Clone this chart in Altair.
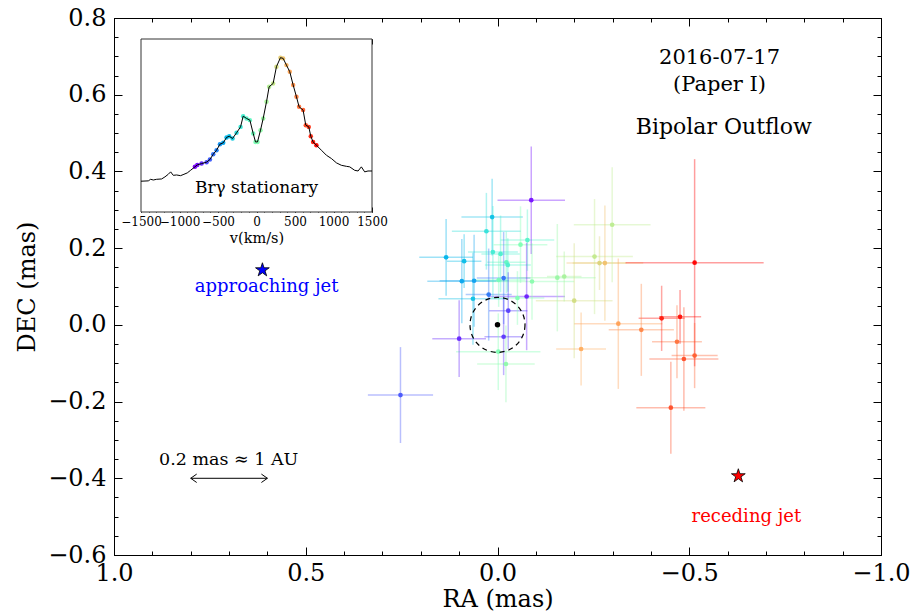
import altair as alt
import pandas as pd

# ---------------- data ----------------
ra = [-0.088, 0.014, 0.029, 0.134, 0.087, -0.060, -0.078, 0.012, -0.008, -0.023, -0.027,
      0.093, 0.061, -0.016, -0.003, -0.090, -0.156, -0.174, 0.023, 0.064, -0.052, -0.076,
      -0.028, -0.016, 0.100, -0.002, -0.022, 0.253, -0.299, -0.253, -0.266, -0.280, -0.200,
      -0.315, -0.375, -0.218, -0.514, -0.428, -0.476, -0.468, -0.514, -0.486, -0.452]
dec = [0.325, 0.281, 0.244, 0.176, 0.166, 0.209, 0.221, 0.190, 0.185, 0.163, 0.156,
       0.114, 0.115, 0.122, 0.117, 0.113, 0.123, 0.126, 0.079, 0.068, 0.070, 0.074,
       0.037, -0.031, -0.036, -0.070, -0.102, -0.183, 0.261, 0.178, 0.161, 0.161, 0.063,
       0.003, -0.013, -0.063, 0.162, 0.017, 0.021, -0.044, -0.080, -0.089, -0.216]
ra_err = [0.088, 0.08, 0.09, 0.07, 0.045, 0.07, 0.07, 0.065, 0.05, 0.05, 0.06,
          0.09, 0.09, 0.07, 0.07, 0.11, 0.10, 0.045, 0.06, 0.09, 0.07, 0.10,
          0.05, 0.05, 0.07, 0.11, 0.075, 0.085, 0.10, 0.10, 0.07, 0.10, 0.10,
          0.115, 0.085, 0.065, 0.18, 0.06, 0.055, 0.065, 0.06, 0.09, 0.09]
dec_err = [0.14, 0.10, 0.10, 0.10, 0.07, 0.10, 0.08, 0.12, 0.10, 0.08, 0.07,
           0.11, 0.12, 0.12, 0.07, 0.10, 0.14, 0.065, 0.12, 0.12, 0.07, 0.14,
           0.10, 0.10, 0.10, 0.10, 0.10, 0.125, 0.15, 0.15, 0.07, 0.15, 0.15,
           0.17, 0.12, 0.095, 0.27, 0.085, 0.07, 0.095, 0.085, 0.135, 0.12]
vel = [-768, -352, -240, -400, -368, 0, -128, -192, -160, -96, -160,
       -432, -448, -560, -32, 32, 80, 128, -544, -352, 0, -736,
       -672, -688, -720, 0, 48, -624, 192, 208, 288, 352, 256,
       448, 512, 416, 800, 752, 768, 560, 608, 640, 640]

centre_ra = [0.0]
centre_dec = [0.0]

jet_name = ["approaching", "receding"]
jet_ra = [0.613, -0.628]
jet_dec = [0.143, -0.394]

spec_v = [-1500, -1405, -1375, -1340, -1297, -1232, -1189, -1146, -1115, -1081,
          -1037, -986, -942, -899, -856, -800, -769, -713, -648, -605,
          -562, -519, -475, -432, -389, -354, -311, -259, -207, -173,
          -130, -86, -43, -13, 13, 52, 87, 130, 164, 216,
          259, 311, 346, 389, 432, 476, 519, 553, 605, 640,
          679, 705, 735, 778, 843, 908, 973, 1038, 1102, 1167,
          1211, 1275, 1319, 1362, 1405, 1448, 1500]
spec_f = [0.178, 0.180, 0.189, 0.185, 0.189, 0.191, 0.203, 0.218, 0.232, 0.212,
          0.214, 0.210, 0.218, 0.226, 0.241, 0.261, 0.272, 0.280, 0.288, 0.303,
          0.334, 0.357, 0.392, 0.400, 0.431, 0.438, 0.425, 0.458, 0.492, 0.554,
          0.541, 0.531, 0.454, 0.405, 0.405, 0.473, 0.541, 0.637, 0.724, 0.743,
          0.840, 0.892, 0.888, 0.849, 0.811, 0.734, 0.666, 0.608, 0.589, 0.502,
          0.492, 0.438, 0.405, 0.386, 0.357, 0.328, 0.309, 0.284, 0.270, 0.264,
          0.261, 0.241, 0.237, 0.261, 0.232, 0.237, 0.237]

x_major = [1.0, 0.5, 0.0, -0.5, -1.0]
y_major = [-0.6, -0.4, -0.2, 0.0, 0.2, 0.4, 0.6, 0.8]
inset_major = [-1500, -1000, -500, 0, 500, 1000, 1500]
x_minor = [round(-1 + 0.1 * i, 2) for i in range(21)]
y_minor = [round(-0.6 + 0.05 * i, 3) for i in range(29)]
inset_minor = list(range(-1500, 1501, 100))

# ---------------- styling ----------------
FONT = "DejaVu Serif"
W, H = 767, 537
PAD = {"left": 114, "top": 18, "right": 30, "bottom": 60}
RAINBOW = ["#8000ff", "#4062fa", "#00b4eb", "#40ebd4", "#80ffb4",
           "#bfeb8e", "#ffb462", "#ff6232", "#ff0000"]
STAR = ("M0,-1L0.2245,-0.309L0.951,-0.309L0.363,0.118L0.588,0.809L0,0.382"
        "L-0.588,0.809L-0.363,0.118L-0.951,-0.309L-0.2245,-0.309Z")
HEAD_L = "M1,-0.7L0,0L1,0.7"
HEAD_R = "M-1,-0.7L0,0L-1,0.7"

xs = alt.Scale(domain=[-1, 1], reverse=True, nice=False, zero=False)
ys = alt.Scale(domain=[-0.6, 0.8], nice=False, zero=False)
cs = alt.Scale(domain=[-800, -600, -400, -200, 0, 200, 400, 600, 800],
               range=RAINBOW, interpolate="rgb")
ixs = alt.Scale(domain=[-1500, 1500], range=[27, 258], nice=False, zero=False)
iys = alt.Scale(domain=[0, 1], range=[194, 21], nice=False, zero=False)

one = pd.DataFrame({"k": [0]})


def mx(field):
    return alt.X(field, type="quantitative", scale=xs, axis=None)


def my(field):
    return alt.Y(field, type="quantitative", scale=ys, axis=None)


def dx(v, scale=xs):
    return alt.X(datum=v, type="quantitative", scale=scale, axis=None)


def dy(v, scale=ys):
    return alt.Y(datum=v, type="quantitative", scale=scale, axis=None)


# ---------------- main panel ----------------
df = pd.DataFrame({"ra": ra, "dec": dec, "ra_err": ra_err, "dec_err": dec_err, "vel": vel})
base = alt.Chart(df).transform_calculate(
    xlo="datum.ra - datum.ra_err", xhi="datum.ra + datum.ra_err",
    ylo="datum.dec - datum.dec_err", yhi="datum.dec + datum.dec_err")
colour = alt.Color("vel:Q", scale=cs, legend=None)

err_x = base.mark_rule(strokeWidth=1.5, opacity=0.38).encode(
    x=mx("xlo"), x2="xhi:Q", y=my("dec"), color=colour)
err_y = base.mark_rule(strokeWidth=1.5, opacity=0.38).encode(
    x=mx("ra"), y=my("ylo"), y2="yhi:Q", color=colour)
pts = base.mark_circle(size=22, opacity=0.95).encode(x=mx("ra"), y=my("dec"), color=colour)

centre = pd.DataFrame({"ra": centre_ra, "dec": centre_dec})
ring = alt.Chart(centre).mark_point(shape="circle", size=3025, filled=False, color="black",
                                    strokeDash=[5, 4], strokeWidth=1.2, opacity=1).encode(
    x=mx("ra"), y=my("dec"))
dot = alt.Chart(centre).mark_circle(size=30, color="black", opacity=1).encode(
    x=mx("ra"), y=my("dec"))

jets = pd.DataFrame({"jet": jet_name, "ra": jet_ra, "dec": jet_dec})
stars = alt.Chart(jets).mark_point(shape=STAR, filled=True, stroke="black", strokeWidth=0.8,
                                   size=210, opacity=1).encode(
    x=mx("ra"), y=my("dec"),
    fill=alt.Fill("jet:N", scale=alt.Scale(domain=jet_name, range=["#0000ff", "#ff0000"]),
                  legend=None))


def label(text, x, y, size, color="black", xscale=xs, yscale=ys):
    return alt.Chart(one).mark_text(text=text, font=FONT, fontSize=size, color=color,
                                    align="center", baseline="middle").encode(
        x=dx(x, xscale), y=dy(y, yscale))


texts = [
    label("2016-07-17", -0.579, 0.696, 21),
    label("(Paper I)", -0.579, 0.626, 21),
    label("Bipolar Outflow", -0.590, 0.516, 22),
    label("approaching jet", 0.602, 0.099, 18, "#0000ff"),
    label("receding jet", -0.649, -0.500, 18, "#ff0000"),
    label("0.2 mas \u2248 1 AU", 0.701, -0.352, 17.5),
]

bar = alt.Chart(one).mark_rule(color="black", strokeWidth=1).encode(
    x=dx(0.8), x2=alt.X2(datum=0.6), y=dy(-0.4))
head_l = alt.Chart(one).mark_point(shape=HEAD_L, filled=False, color="black", strokeWidth=1,
                                   size=144, opacity=1).encode(x=dx(0.8), y=dy(-0.4))
head_r = alt.Chart(one).mark_point(shape=HEAD_R, filled=False, color="black", strokeWidth=1,
                                   size=144, opacity=1).encode(x=dx(0.6), y=dy(-0.4))

tick_common = dict(labels=False, domain=False, grid=False, title=None, ticks=True,
                   tickColor="black", tickWidth=1)


def axis_layer(xax, yax, xscale=xs, yscale=ys):
    return alt.Chart(one).mark_point(opacity=0).encode(
        x=alt.X("k:Q", scale=xscale, axis=xax), y=alt.Y("k:Q", scale=yscale, axis=yax))


main_axes = [
    axis_layer(
        alt.Axis(orient="bottom", values=x_major, format=".1f", ticks=False, domain=False,
                 grid=False, labelFont=FONT, labelFontSize=24, labelColor="black",
                 labelPadding=6, labelFlush=False, labelOverlap=False,
                 title="RA (mas)", titleFont=FONT, titleFontSize=24, titleFontWeight="normal",
                 titleColor="black", titlePadding=2),
        alt.Axis(orient="left", values=y_major, format=".1f", ticks=False, domain=False,
                 grid=False, labelFont=FONT, labelFontSize=24, labelColor="black",
                 labelPadding=8, labelFlush=False, labelOverlap=False,
                 title="DEC (mas)", titleFont=FONT, titleFontSize=24, titleFontWeight="normal",
                 titleColor="black", titlePadding=8)),
    axis_layer(alt.Axis(orient="top", offset=-H, values=x_major, tickSize=8, **tick_common),
               alt.Axis(orient="right", offset=-W, values=y_major, tickSize=8, **tick_common)),
    axis_layer(alt.Axis(orient="top", offset=-H, values=x_minor, tickSize=4, **tick_common),
               alt.Axis(orient="right", offset=-W, values=y_minor, tickSize=4, **tick_common)),
    axis_layer(alt.Axis(orient="bottom", offset=-H, values=x_major, tickSize=8, **tick_common),
               alt.Axis(orient="left", offset=-W, values=y_major, tickSize=8, **tick_common)),
    axis_layer(alt.Axis(orient="bottom", offset=-H, values=x_minor, tickSize=4, **tick_common),
               alt.Axis(orient="left", offset=-W, values=y_minor, tickSize=4, **tick_common)),
]

main = alt.layer(err_x, err_y, pts, ring, dot, stars, *texts, bar, head_l, head_r,
                 *main_axes).resolve_axis(x="independent", y="independent")

# ---------------- inset spectrum ----------------
spec = pd.DataFrame({"v": spec_v, "f": spec_f})
frame = alt.Chart(one).mark_rect(fill="white", stroke="#333333", strokeWidth=1).encode(
    x=dx(-1500, ixs), x2=alt.X2(datum=1500), y=dy(0, iys), y2=alt.Y2(datum=1))
sdots = alt.Chart(spec).transform_filter("abs(datum.v) <= 800").mark_circle(
    size=20, opacity=1).encode(
    x=alt.X("v:Q", scale=ixs, axis=None), y=alt.Y("f:Q", scale=iys, axis=None),
    color=alt.Color("v:Q", scale=cs, legend=None))
sline = alt.Chart(spec).mark_line(color="black", strokeWidth=1).encode(
    x=alt.X("v:Q", scale=ixs, axis=None), y=alt.Y("f:Q", scale=iys, axis=None))
itext = label("Br\u03b3 stationary", 0, 0.14, 17, xscale=ixs, yscale=iys)

inset_axes = [
    axis_layer(
        alt.Axis(orient="bottom", offset=-(H - 194), values=inset_major, format="d",
                 ticks=False, domain=False, grid=False, labelFont=FONT, labelFontSize=12,
                 labelColor="black", labelPadding=4, labelFlush=False, labelOverlap=False,
                 title="v(km/s)", titleFont=FONT, titleFontSize=14.5, titleFontWeight="normal",
                 titleColor="black", titlePadding=4),
        None, ixs, iys),
    axis_layer(alt.Axis(orient="top", offset=-194, values=inset_major, tickSize=5, **tick_common),
               None, ixs, iys),
    axis_layer(alt.Axis(orient="top", offset=-194, values=inset_minor, tickSize=3, **tick_common),
               None, ixs, iys),
    axis_layer(alt.Axis(orient="bottom", offset=-(H - 21), values=inset_major, tickSize=5,
                        **tick_common), None, ixs, iys),
    axis_layer(alt.Axis(orient="bottom", offset=-(H - 21), values=inset_minor, tickSize=3,
                        **tick_common), None, ixs, iys),
]

inset = alt.layer(frame, sdots, sline, itext, *inset_axes).resolve_axis(
    x="independent", y="independent")

chart = alt.layer(main, inset).resolve_scale(
    x="independent", y="independent", color="independent", fill="independent"
).properties(
    width=W, height=H, padding=PAD, autosize=alt.AutoSizeParams(type="none"),
    background="white"
).configure_view(stroke="black", strokeWidth=1)

chart.save("out.html", embed_options={"renderer": "svg", "actions": False})
